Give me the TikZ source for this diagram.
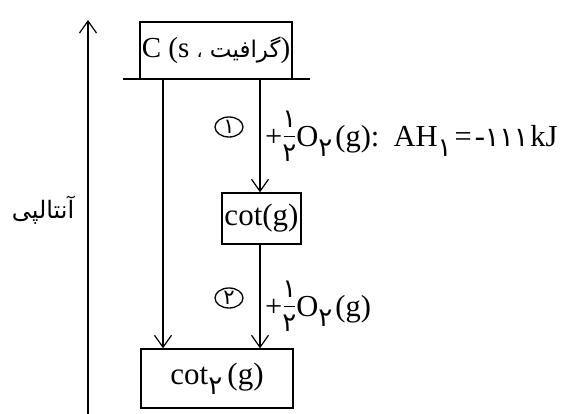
\documentclass[tikz,border=0pt]{standalone}
\usepackage{fontspec}
\setmainfont{Liberation Serif}
\newfontfamily\arabicfont[Script=Arabic]{DejaVu Sans}
\newfontfamily\digfont{DejaVu Sans}
\TeXXeTstate=1
\usetikzlibrary{arrows.meta,shapes.geometric}
\newcommand{\pd}[1]{{\fontsize{27}{30}\selectfont\digfont #1}}
\newcommand{\psub}[1]{\raisebox{-10pt}{\fontsize{26}{26}\selectfont\digfont #1}}
\newsavebox{\denbox}
\newcommand{\hfr}{\sbox{\denbox}{\fontsize{26}{26}\selectfont\digfont ۲}%
  \raisebox{\dimexpr 2pt-\ht\denbox\relax}{\vbox{\offinterlineskip\halign{\hfil##\hfil\cr
  \fontsize{26}{26}\selectfont\digfont ۱\cr
  \noalign{\kern8pt}
  \vrule width 11pt height 1.2pt depth 0pt\cr
  \noalign{\kern8pt}
  \usebox{\denbox}\cr}}}}
\tikzset{
  boxnode/.style={draw, line width=1.4pt, inner sep=0pt, font=\fontsize{31}{34}\selectfont},
  conn/.style={line width=1.2pt, -{Straight Barb[length=12pt,width=17pt,line width=1.2pt]}},
  numcirc/.style={draw, ellipse, line width=1.3pt, minimum width=28pt, minimum height=20pt, inner sep=0pt, font=\fontsize{21}{21}\selectfont\digfont},
  lbl/.style={anchor=base west, inner sep=0pt, font=\fontsize{30.5}{34}\selectfont}
}
\begin{document}
\begin{tikzpicture}[x=1pt,y=-1pt]
\useasboundingbox (0,0) rectangle (571,414);
% enthalpy axis
\coordinate (ax0) at (88,414);
\coordinate (ax1) at (88,20);
\draw[conn] (ax0) -- (ax1);
\node[font=\fontsize{24}{28}\selectfont\arabicfont] (ent) at (43,210) {\beginR آنتالپی\endR};
% top box
\node[boxnode, minimum width=152pt, minimum height=57pt, font=\fontsize{29}{32}\selectfont] (top) at (216,50.5)
  {C (s {\fontsize{19}{24}\selectfont\arabicfont ،} {\fontsize{23}{28}\selectfont\arabicfont\beginR گرافیت\endR})};
\coordinate (l1) at (123,79);
\coordinate (l2) at (310,79);
\draw[line width=1.4pt] (l1) -- (l2);
% middle box
\node[boxnode, minimum width=79pt, minimum height=51pt] (mid) at (261.5,218.5) {cot(g)};
% bottom box
\node[boxnode, minimum width=152pt, minimum height=59pt] (bot) at (217,378.5) {cot\psub{۲}\,(g)};
% connectors
\coordinate (s1) at (163,79);
\coordinate (s2) at (260,79);
\draw[conn] (s1) -- (s1 |- bot.north);
\draw[conn] (s2) -- (s2 |- mid.north);
\draw[conn] (mid.south -| s2) -- (s2 |- bot.north);
% step labels
\node[numcirc] (c1) at (229,127) {۱};
\node[numcirc] (c2) at (229,298) {۲};
\node[lbl] (t1) at (265,147) {+\hfr O\psub{۲}\kern3pt(g): \kern4pt AH\psub{۱}\kern3pt=\kern3pt-\pd{۱۱۱}\kern2pt kJ};
\node[lbl] (t2) at (265,317) {+\hfr O\psub{۲}\kern3pt(g)};
\end{tikzpicture}
\end{document}
